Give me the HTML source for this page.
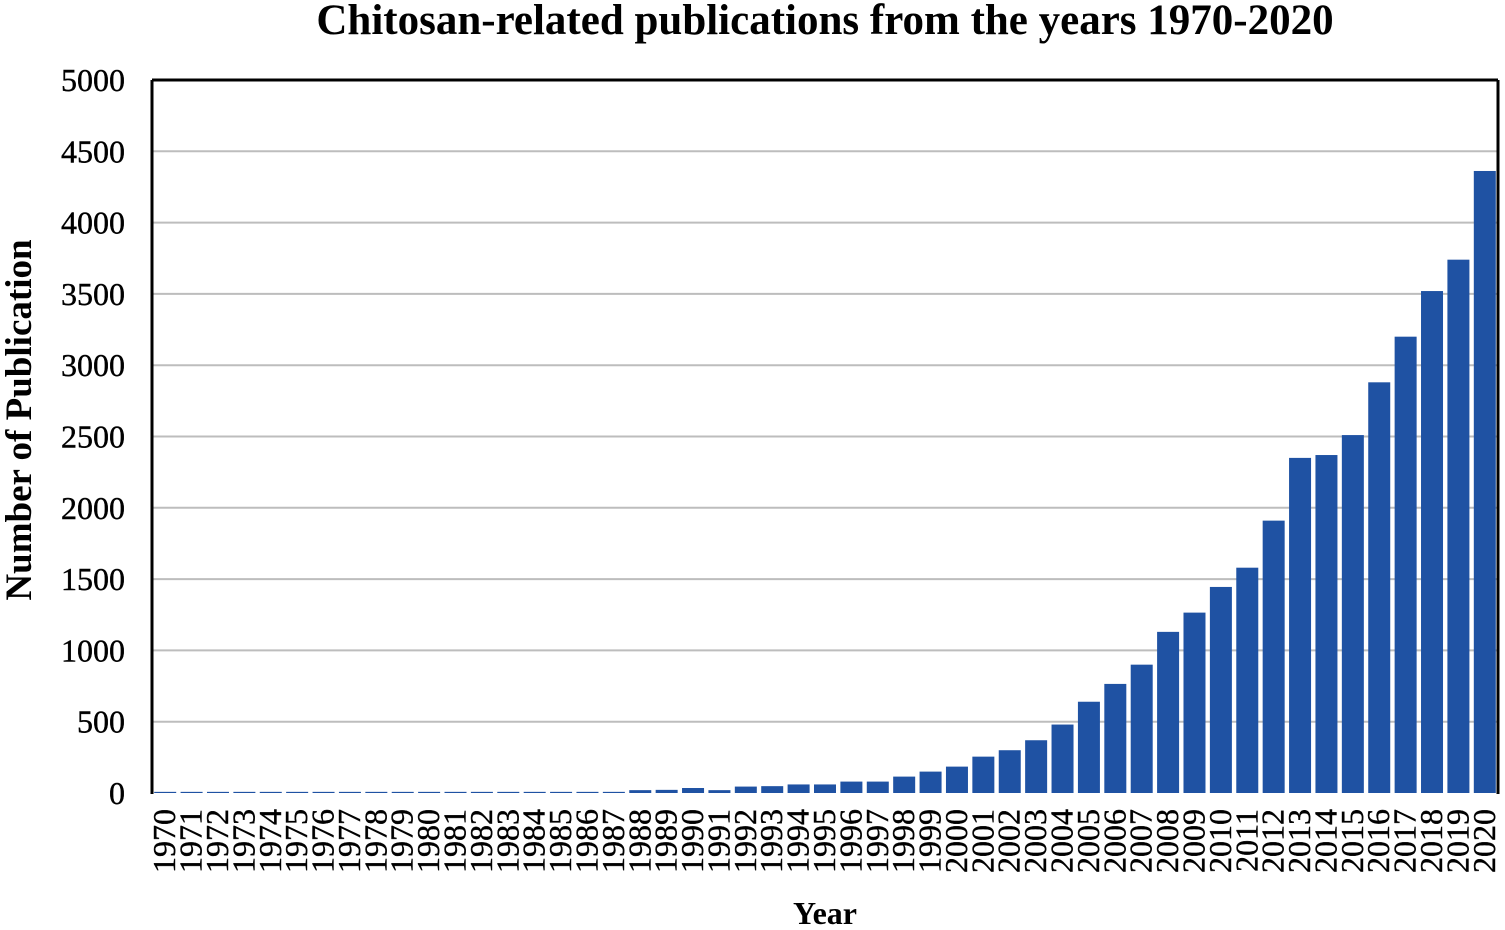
<!DOCTYPE html>
<html><head><meta charset="utf-8"><style>
html,body{margin:0;padding:0;background:#fff;}
svg{display:block;}
svg text{font-family:"Liberation Serif","Times New Roman",serif;}
</style></head><body>
<svg id="chart" width="1505" height="930">
<text x="825" y="34" text-anchor="middle" font-size="43" font-weight="bold">Chitosan-related publications from the years 1970-2020</text>
<text transform="translate(31,420) rotate(-90)" text-anchor="middle" font-size="37" font-weight="bold">Number of Publication</text>
<text x="825" y="924" text-anchor="middle" font-size="32" font-weight="bold">Year</text>
<g id="grid"></g><g id="bars"></g><g id="ylabels"></g><g id="xlabels"></g>
<line x1="152" y1="80" x2="1498" y2="80" stroke="#000" stroke-width="3"/>
<line x1="1498" y1="80" x2="1498" y2="794" stroke="#000" stroke-width="3"/>
<line x1="152" y1="80" x2="152" y2="794" stroke="#000" stroke-width="3"/>
</svg>
<script>
const years = [];
for (let y = 1970; y <= 2020; y++) years.push(String(y));
const counts = [8,8,8,8,8,8,8,8,8,8,8,8,8,8,8,8,8,8,20,22,35,20,45,48,60,60,80,80,115,150,185,255,300,370,480,640,765,900,1130,1265,1445,1580,1910,2350,2370,2510,2880,3200,3520,3740,4362];
const yTicks = [0,500,1000,1500,2000,2500,3000,3500,4000,4500,5000];
const NS = "http://www.w3.org/2000/svg";
const L = 152, R = 1498, T = 80, B = 793, MAX = 5000;
const yS = v => B - v / MAX * (B - T);
const slot = (R - L) / years.length;
const xS = i => L + slot * (i + 0.5);
const mk = (tag, attrs, parent) => { const e = document.createElementNS(NS, tag); for (const k in attrs) e.setAttribute(k, attrs[k]); document.getElementById(parent).appendChild(e); return e; };
yTicks.forEach(v => {
  if (v > 0 && v < MAX) {
    const g = mk("line", {x1: L, x2: R, y1: yS(v), y2: yS(v), stroke: "#bdbdbd", "stroke-width": 2}, "grid");
    
    
  }
  const t = mk("text", {x: 125, y: yS(v) + 11, "text-anchor": "end", "font-size": 32, stroke: "#000", "stroke-width": 0.4}, "ylabels");
  t.textContent = v;
  
  
});
counts.forEach((v, i) => {
  const bw = 22;
  const r = mk("rect", {x: xS(i) - bw / 2, y: yS(v), width: bw, height: B - yS(v), fill: "#1f52a3"}, "bars");
  
  
  const t = mk("text", {transform: `translate(${xS(i) + 10},809) rotate(-90)`, "text-anchor": "end", "font-size": 32, stroke: "#000", "stroke-width": 0.4}, "xlabels");
  t.textContent = years[i];
  
  
});
</script>
</body></html>
